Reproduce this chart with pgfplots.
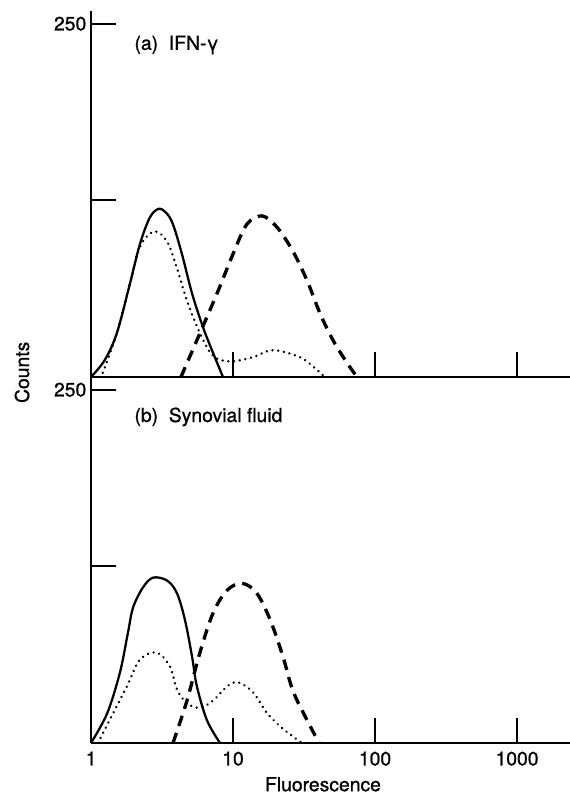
\documentclass[border=0pt]{standalone}
\usepackage{fontspec}
\setmainfont{TeX Gyre Heros}
\newfontfamily\labfont{TeX Gyre Heros}[FakeBold=0.9]
\usepackage{pgfplots}
\pgfplotsset{compat=1.18}

\newcommand{\lab}{\labfont\fontsize{14.5}{17}\selectfont}
\tikzset{
  solidc/.style={black, line width=1.7pt, smooth, tension=0.55},
  dashc/.style={black, line width=2.5pt, dash pattern=on 8pt off 5.5pt, smooth, tension=0.55},
  dotc/.style={black, line width=2pt, line cap=round, dash pattern=on 0.01pt off 4.3pt, smooth, tension=0.55},
}

\begin{document}
\begin{tikzpicture}
\path[use as bounding box] (-68.25pt,-42.75pt) rectangle (359.25pt,557.25pt);

% (a) IFN-gamma
\begin{axis}[scale only axis, width=359.25pt, height=274.5pt,
  xmode=log, xmin=1, xmax=2360, ymin=0, ymax=259,
  axis x line=bottom, axis y line=left,
  axis line style={-, line width=1.6pt},
  tick style={black, line width=1.6pt},
  major tick length=18.5pt, tick align=inside,
  xminorticks=false, yminorticks=false,
  ytick={125,250}, yticklabels={,250},
  tick label style={font=\lab},
  clip=false,
  at={(0,274.5pt)}, anchor=south west,
  xtick={10,100,1000}, xticklabels={,,}]
\addplot[solidc] coordinates {(1.0,0) (1.25,12) (1.52,31) (1.88,66) (2.21,94) (2.6,113) (3.0,119) (3.4,116) (3.78,108) (4.37,87) (5.15,59) (6.16,35) (7.24,17) (8.5,0)};
\addplot[dotc] coordinates {(1.21,3) (1.52,31) (1.88,66) (2.21,92) (2.78,103) (3.43,96) (4.03,77) (4.74,54) (5.85,31) (7.24,15) (9.5,11) (13.8,14) (19.1,19) (29.6,14) (38,6) (44,0)};
\addplot[dashc] coordinates {(4.3,0) (5.85,31) (7.71,59) (10,87) (12.5,108) (16.0,114) (20.4,106) (26.4,89) (33.3,68) (41,45) (50.6,26) (63.5,10) (74.7,0)};
\node[anchor=west, font=\lab] at (rel axis cs:0.081,0.907) {(a)\ \ IFN-γ};
\end{axis}

% (b) Synovial fluid
\begin{axis}[scale only axis, width=359.25pt, height=274.5pt,
  xmode=log, xmin=1, xmax=2360, ymin=0, ymax=259,
  axis x line=bottom, axis y line=left,
  axis line style={-, line width=1.6pt},
  tick style={black, line width=1.6pt},
  major tick length=18.5pt, tick align=inside,
  xminorticks=false, yminorticks=false,
  ytick={125,250}, yticklabels={,250},
  tick label style={font=\lab},
  clip=false,
  at={(0,0)}, anchor=south west,
  xtick={1,10,100,1000}, xticklabels={1,10,100,1000},
  xticklabel style={yshift=-3pt}]
\addplot[solidc] coordinates {(1.0,0) (1.30,21) (1.60,50) (1.82,78) (1.98,96) (2.32,110) (2.73,117) (3.43,115) (4.03,106) (4.59,87) (5.15,61) (5.57,40) (6.56,16) (8.1,0)};
\addplot[dotc] coordinates {(1.12,0) (1.43,21) (1.79,40) (2.21,59) (2.91,64) (3.6,54) (4.03,38) (4.74,28) (5.85,25) (7.24,30) (9.07,40) (10.8,43) (13.8,36) (17.4,21) (22.5,10) (30.6,0)};
\addplot[dashc] coordinates {(3.78,0) (4.74,30) (5.85,64) (7.24,92) (9.07,108) (11.6,113) (14.7,106) (18.3,87) (22.5,61) (26.4,37) (33.3,16) (40.4,0)};
\node[anchor=west, font=\lab] at (rel axis cs:0.081,0.891) {(b)\ \ Synovial fluid};
\end{axis}

\node[rotate=90, font=\lab] at (-51.75pt,278pt) {Counts};
\node[font=\lab] at (174pt,-31pt) {Fluorescence};
\end{tikzpicture}
\end{document}
